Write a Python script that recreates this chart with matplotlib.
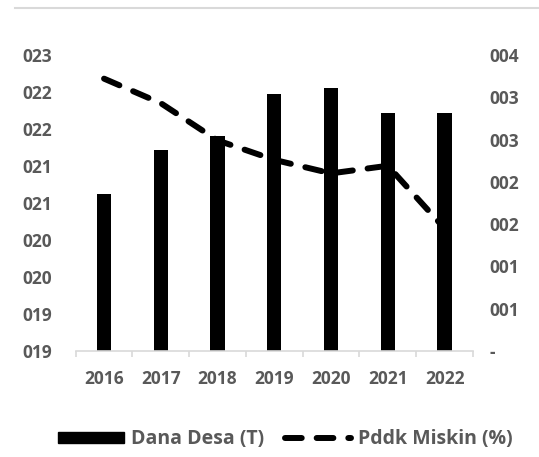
import matplotlib.pyplot as plt
from matplotlib.lines import Line2D
from matplotlib.patches import Patch
import numpy as np

# data
years = ['2016', '2017', '2018', '2019', '2020', '2021', '2022']
dana_desa = [21.12, 21.71, 21.91, 22.47, 22.55, 22.22, 22.22]
pddk_miskin = [3.22, 2.93, 2.49, 2.26, 2.10, 2.19, 1.45]

left_ticks = [19.0, 19.5, 20.0, 20.5, 21.0, 21.5, 22.0, 22.5, 23.0]
left_labels = ['019', '019', '020', '020', '021', '021', '022', '022', '023']
right_ticks = [0, 0.5, 1.0, 1.5, 2.0, 2.5, 3.0, 3.5]
right_labels = ['-', '001', '001', '002', '002', '003', '003', '004']

txt = '#595959'
grey = '#d9d9d9'
font = 'Open Sans'
fs = 12.5
dash = (0, (2.8, 2.5))

fig = plt.figure(figsize=(5.39, 4.57), dpi=100)
ax = fig.add_axes([0.1404, 0.232, 0.737, 0.6477])
ax2 = ax.twinx()

x = np.arange(len(years))
ax.bar(x, dana_desa, width=0.25, color='black', bottom=0)
ax.set_ylim(19.0, 23.0)
ax.set_xlim(-0.5, len(years) - 0.5)

ax2.plot(x, pddk_miskin, color='black', lw=4.3, linestyle=dash,
         dash_capstyle='round')
ax2.set_ylim(0, 3.5)

ax.set_yticks(left_ticks)
ax.set_yticklabels(left_labels)
ax2.set_yticks(right_ticks)
ax2.set_yticklabels(right_labels)
ax.set_xticks(x)
ax.set_xticklabels(years)
ax.set_xticks(np.arange(-0.5, len(years)), minor=True)

for a in (ax, ax2):
    for s in a.spines.values():
        s.set_visible(False)
ax.spines['bottom'].set_visible(True)
ax.spines['bottom'].set_color(grey)
ax.spines['bottom'].set_linewidth(1.2)

ax.tick_params(axis='x', which='major', length=0, pad=14, labelcolor=txt)
ax.tick_params(axis='x', which='minor', length=4.2, color=grey, width=1.2)
ax.tick_params(axis='y', length=0, pad=17, labelcolor=txt)
ax2.tick_params(axis='y', length=0, pad=12, labelcolor=txt)

for lab in ax.get_xticklabels() + ax.get_yticklabels() + ax2.get_yticklabels():
    lab.set_fontfamily(font)
    lab.set_fontweight('bold')
    lab.set_fontsize(fs)

handles = [Patch(facecolor='black', edgecolor='black'),
           Line2D([0], [0], color='black', lw=4.3, linestyle=dash,
                  dash_capstyle='round')]
leg = fig.legend(handles, ['Dana Desa (T)', 'Pddk Miskin (%)'], loc='center',
                 bbox_to_anchor=(0.5295, 0.039), ncol=2, frameon=False,
                 handlelength=3.4, handleheight=0.5, columnspacing=1.05,
                 handletextpad=0.38,
                 prop={'family': font, 'weight': 'bold', 'size': 14})
for t in leg.get_texts():
    t.set_color(txt)

fig.add_artist(Line2D([15 / 539, 1], [1 - 8 / 457, 1 - 8 / 457], color=grey, lw=1.5))

fig.savefig('out.png', dpi=100)
